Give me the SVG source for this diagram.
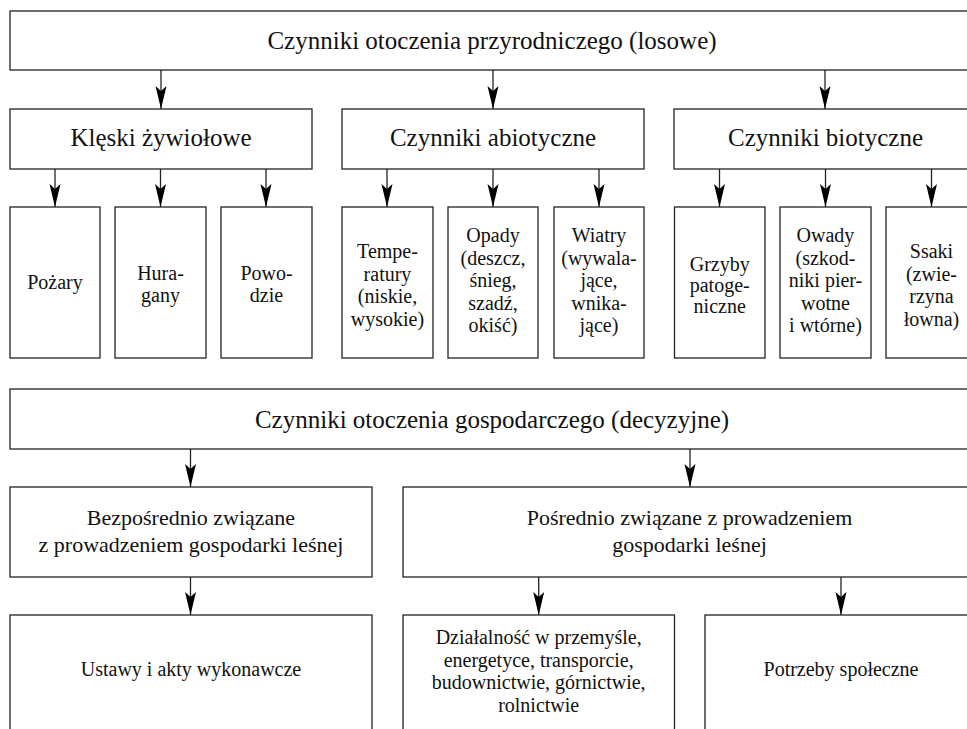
<svg xmlns="http://www.w3.org/2000/svg" width="967" height="729" viewBox="0 0 967 729">
<style>
  .box { fill: #fff; stroke: #222; stroke-width: 1.3; }
  .t { fill: #111; text-anchor: middle; }
  .big { font-size: 25px; }
  .mid { font-size: 22px; }
  .sm { font-size: 20px; }
  .conn { stroke: #222; stroke-width: 1.3; fill: none; marker-end: url(#ah); }
</style>
<defs>
  <marker id="ah" viewBox="-24 -6 24 12" refX="0" refY="0" markerWidth="24" markerHeight="12" markerUnits="userSpaceOnUse" orient="auto">
    <path d="M0,0 L-23,-5.5 L-18,0 L-23,5.5 Z" fill="#000"/>
  </marker>
</defs>
<rect width="967" height="729" fill="#fff"/>

<g id="connectors">
  <line class="conn" x1="161" y1="70" x2="161" y2="109"/>
  <line class="conn" x1="493" y1="70" x2="493" y2="109"/>
  <line class="conn" x1="825" y1="70" x2="825" y2="109"/>
  <line class="conn" x1="55" y1="169" x2="55" y2="207"/>
  <line class="conn" x1="160.5" y1="169" x2="160.5" y2="207"/>
  <line class="conn" x1="266" y1="169" x2="266" y2="207"/>
  <line class="conn" x1="387" y1="169" x2="387" y2="207"/>
  <line class="conn" x1="493" y1="169" x2="493" y2="207"/>
  <line class="conn" x1="599" y1="169" x2="599" y2="207"/>
  <line class="conn" x1="719.5" y1="169" x2="719.5" y2="207"/>
  <line class="conn" x1="825.5" y1="169" x2="825.5" y2="207"/>
  <line class="conn" x1="931.5" y1="169" x2="931.5" y2="207"/>
  <line class="conn" x1="190.5" y1="449" x2="190.5" y2="487"/>
  <line class="conn" x1="690" y1="449" x2="690" y2="487"/>
  <line class="conn" x1="190.5" y1="577" x2="190.5" y2="615"/>
  <line class="conn" x1="538.7" y1="577" x2="538.7" y2="615"/>
  <line class="conn" x1="841" y1="577" x2="841" y2="615"/>
</g>

<g id="nodes" font-family="'Liberation Serif', 'Times New Roman', 'DejaVu Serif', serif">
<g id="przyrodnicze">
  <rect class="box" x="10" y="11" width="964" height="59"/>
  <text class="t big" x="492" y="49">Czynniki otoczenia przyrodniczego (losowe)</text>
</g>
<g id="kleski">
  <rect class="box" x="10" y="109" width="302" height="60"/>
  <text class="t big" x="161" y="146">Klęski żywiołowe</text>
</g>
<g id="abiotyczne">
  <rect class="box" x="342" y="109" width="302" height="60"/>
  <text class="t big" x="493" y="146">Czynniki abiotyczne</text>
</g>
<g id="biotyczne">
  <rect class="box" x="674" y="109" width="303" height="60"/>
  <text class="t big" x="825.5" y="146">Czynniki biotyczne</text>
</g>

<g id="pozary">
  <rect class="box" x="10" y="207" width="90" height="151"/>
  <text class="t sm" x="55" y="289">Pożary</text>
</g>
<g id="huragany">
  <rect class="box" x="115" y="207" width="91" height="151"/>
  <text class="t sm"><tspan x="160.5" y="280">Hura-</tspan><tspan x="160.5" y="302">gany</tspan></text>
</g>
<g id="powodzie">
  <rect class="box" x="221" y="207" width="91" height="151"/>
  <text class="t sm"><tspan x="266.5" y="280">Powo-</tspan><tspan x="266.5" y="302">dzie</tspan></text>
</g>
<g id="temperatury">
  <rect class="box" x="342" y="207" width="91" height="151"/>
  <text class="t sm"><tspan x="387.5" y="258">Tempe-</tspan><tspan x="387.5" y="280.5">ratury</tspan><tspan x="387.5" y="303">(niskie,</tspan><tspan x="387.5" y="325.5">wysokie)</tspan></text>
</g>
<g id="opady">
  <rect class="box" x="448" y="207" width="90" height="151"/>
  <text class="t sm"><tspan x="493" y="242">Opady</tspan><tspan x="493" y="264.5">(deszcz,</tspan><tspan x="493" y="287">śnieg,</tspan><tspan x="493" y="309.5">szadź,</tspan><tspan x="493" y="332">okiść)</tspan></text>
</g>
<g id="wiatry">
  <rect class="box" x="554" y="207" width="90" height="151"/>
  <text class="t sm"><tspan x="599" y="242">Wiatry</tspan><tspan x="599" y="264.5">(wywala-</tspan><tspan x="599" y="287">jące,</tspan><tspan x="599" y="309.5">wnika-</tspan><tspan x="599" y="332">jące)</tspan></text>
</g>
<g id="grzyby">
  <rect class="box" x="674.5" y="207" width="90.5" height="151"/>
  <text class="t sm"><tspan x="719.7" y="271">Grzyby</tspan><tspan x="719.7" y="292">patoge-</tspan><tspan x="719.7" y="313">niczne</tspan></text>
</g>
<g id="owady">
  <rect class="box" x="780" y="207" width="91" height="151"/>
  <text class="t sm"><tspan x="825.5" y="242">Owady</tspan><tspan x="825.5" y="264.5">(szkod-</tspan><tspan x="825.5" y="287">niki pier-</tspan><tspan x="825.5" y="309.5">wotne</tspan><tspan x="825.5" y="332">i wtórne)</tspan></text>
</g>
<g id="ssaki">
  <rect class="box" x="886" y="207" width="91" height="151"/>
  <text class="t sm"><tspan x="931.5" y="258">Ssaki</tspan><tspan x="931.5" y="280.5">(zwie-</tspan><tspan x="931.5" y="303">rzyna</tspan><tspan x="931.5" y="325.5">łowna)</tspan></text>
</g>

<g id="gospodarcze">
  <rect class="box" x="10" y="389" width="964" height="60"/>
  <text class="t big" x="492" y="428">Czynniki otoczenia gospodarczego (decyzyjne)</text>
</g>
<g id="bezposrednio">
  <rect class="box" x="10" y="487" width="362" height="90"/>
  <text class="t mid"><tspan x="191" y="525">Bezpośrednio związane</tspan><tspan x="191" y="552">z prowadzeniem gospodarki leśnej</tspan></text>
</g>
<g id="posrednio">
  <rect class="box" x="403" y="487" width="573" height="90"/>
  <text class="t mid"><tspan x="689.5" y="525">Pośrednio związane z prowadzeniem</tspan><tspan x="689.5" y="552">gospodarki leśnej</tspan></text>
</g>
<g id="ustawy">
  <rect class="box" x="10" y="615" width="362" height="125"/>
  <text class="t sm" x="191" y="676">Ustawy i akty wykonawcze</text>
</g>
<g id="dzialalnosc">
  <rect class="box" x="403" y="615" width="271.5" height="125"/>
  <text class="t sm"><tspan x="538.7" y="644">Działalność w przemyśle,</tspan><tspan x="538.7" y="666.5">energetyce, transporcie,</tspan><tspan x="538.7" y="689">budownictwie, górnictwie,</tspan><tspan x="538.7" y="711.5">rolnictwie</tspan></text>
</g>
<g id="potrzeby">
  <rect class="box" x="705" y="615" width="272" height="125"/>
  <text class="t sm" x="841" y="676">Potrzeby społeczne</text>
</g>
</g>
</svg>
